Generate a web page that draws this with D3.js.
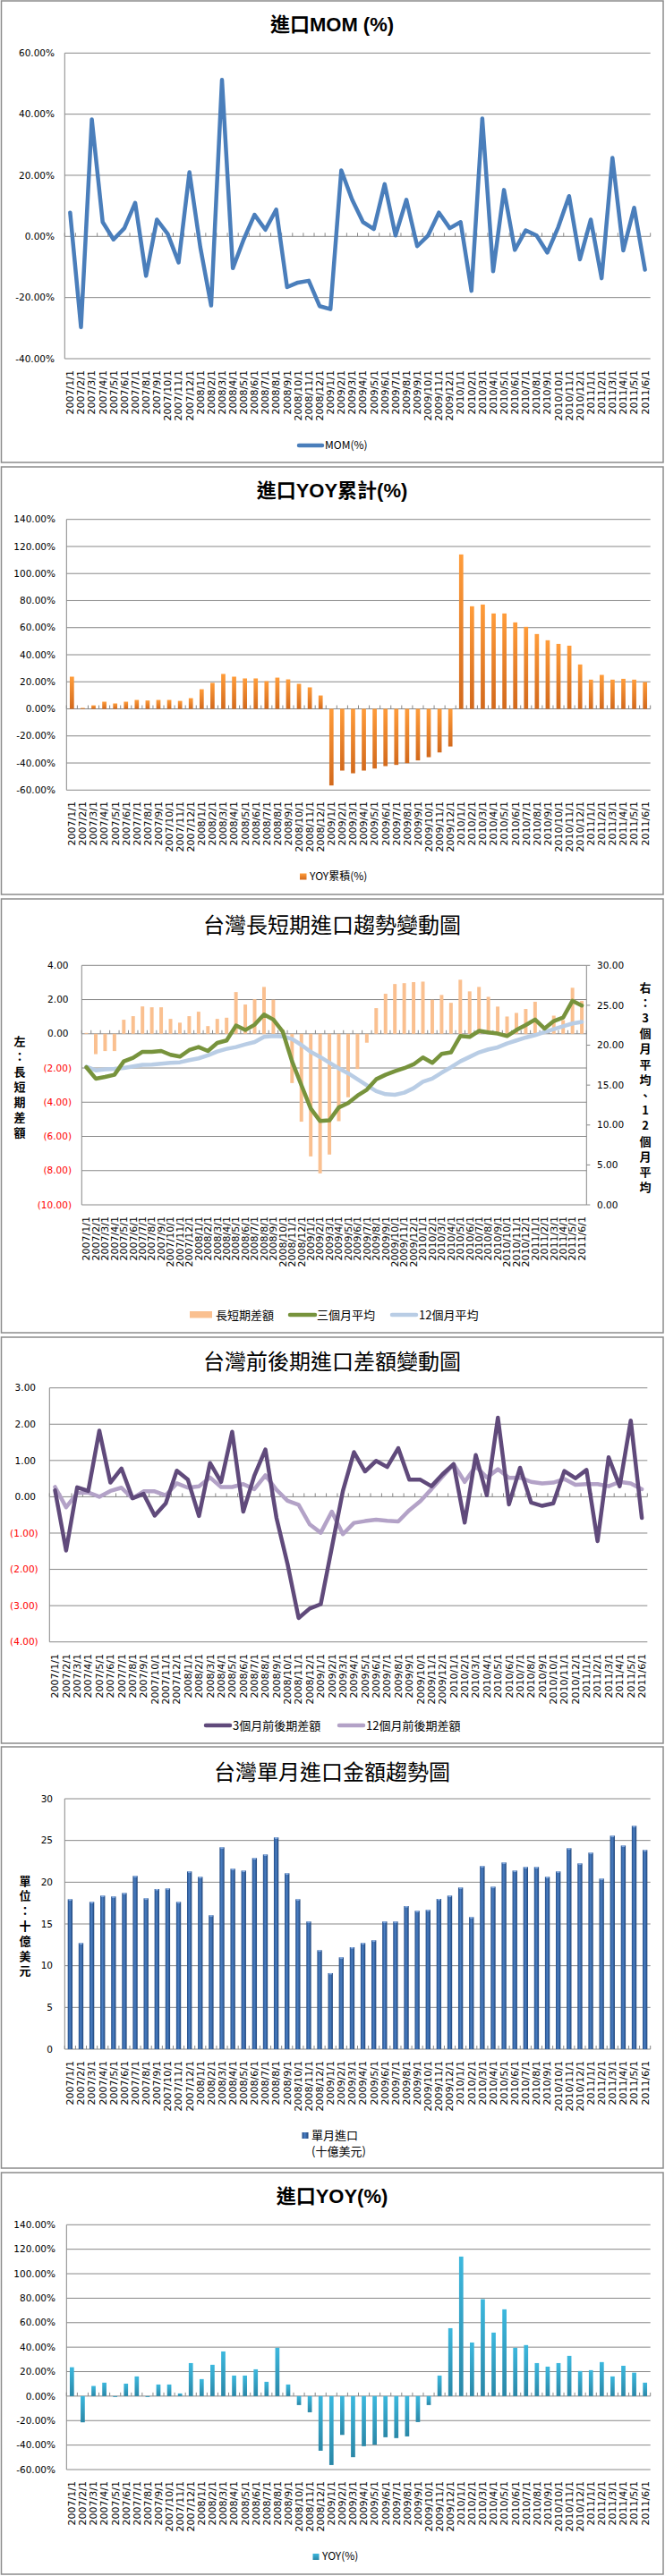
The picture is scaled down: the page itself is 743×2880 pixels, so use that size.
<!DOCTYPE html>
<html><head><meta charset="utf-8">
<script src="https://cdn.jsdelivr.net/npm/d3@7"></script>
<style>
body{margin:0;background:#fff;}
svg{display:block;}
</style></head><body>
<svg id="c" width="743" height="2880"></svg>
<script>
// ---------------- DATA ----------------
const categories = [
"2007/1/1","2007/2/1","2007/3/1","2007/4/1","2007/5/1","2007/6/1","2007/7/1","2007/8/1","2007/9/1","2007/10/1","2007/11/1","2007/12/1",
"2008/1/1","2008/2/1","2008/3/1","2008/4/1","2008/5/1","2008/6/1","2008/7/1","2008/8/1","2008/9/1","2008/10/1","2008/11/1","2008/12/1",
"2009/1/1","2009/2/1","2009/3/1","2009/4/1","2009/5/1","2009/6/1","2009/7/1","2009/8/1","2009/9/1","2009/10/1","2009/11/1","2009/12/1",
"2010/1/1","2010/2/1","2010/3/1","2010/4/1","2010/5/1","2010/6/1","2010/7/1","2010/8/1","2010/9/1","2010/10/1","2010/11/1","2010/12/1",
"2011/1/1","2011/2/1","2011/3/1","2011/4/1","2011/5/1","2011/6/1"];

// 進口MOM (%)
const momValues = [7.8,-29.7,38.3,4.7,-1.0,2.7,11.0,-12.9,5.5,0.8,-8.5,21.0,
-3.5,-22.6,51.2,-10.4,-1.0,7.1,2.2,8.8,-16.6,-15.1,-14.5,-22.8,
-23.8,21.6,12.0,4.7,2.4,17.1,0.3,12.0,-3.2,0.3,7.8,2.7,
4.7,-17.8,38.6,-11.4,15.2,-4.4,2.0,0.3,-5.3,3.0,13.2,-7.5,
5.5,-13.7,25.7,-4.6,9.4,-10.9];

// 進口YOY累計(%)
const yoyCumValues = [23.8,0.7,2.6,5.3,4.0,5.3,6.6,6.2,6.6,6.6,5.9,7.9,
14.5,19.2,25.8,23.8,22.5,22.5,20.5,23.1,21.8,18.5,15.9,9.9,
-56.6,-45.6,-47.6,-45.6,-44.1,-42.3,-41.4,-40.1,-38.1,-35.7,-32.2,-27.8,
114.1,75.8,77.1,70.5,70.5,63.9,60.6,55.3,50.7,48.0,46.7,32.8,
21.6,25.1,21.6,22.2,21.6,19.8];

// 台灣長短期進口趨勢變動圖
const longShortDiff = [0.05,-1.19,-1.01,-1.01,0.82,1.03,1.60,1.55,1.55,0.87,0.65,1.03,
1.29,0.45,0.87,0.94,2.44,1.71,2.02,2.74,1.99,0.24,-2.88,-5.14,
-7.17,-8.16,-7.06,-5.11,-3.71,-2.06,-0.52,1.50,2.34,2.91,2.96,3.02,
3.05,1.99,2.27,1.81,3.16,2.48,2.74,2.16,1.59,1.01,1.22,1.45,
1.87,0.30,1.06,0.80,2.69,1.92];
const avg3m = [17.23,15.81,16.03,16.29,17.97,18.42,19.17,19.17,19.28,18.80,18.57,19.39,
19.77,19.28,20.29,20.59,22.46,21.90,22.57,23.84,23.21,21.71,17.97,14.99,
12.07,10.50,10.58,12.20,12.74,13.68,14.42,15.73,16.29,16.74,17.12,17.60,
18.46,17.79,18.91,19.10,21.15,21.04,21.79,21.60,21.45,21.15,21.90,22.53,
23.21,22.08,23.02,23.47,25.56,24.96];
const avg12m = [17.30,16.85,16.97,17.04,17.15,17.34,17.53,17.56,17.68,17.79,17.86,18.12,
18.35,18.72,19.21,19.54,19.77,20.10,20.40,21.04,21.15,21.11,20.78,20.03,
19.17,18.53,17.80,17.10,16.48,15.73,14.98,14.24,13.86,13.79,14.05,14.61,
15.43,15.81,16.55,17.23,17.97,18.53,19.10,19.47,19.73,20.22,20.59,20.96,
21.26,21.64,22.01,22.38,22.72,22.91];

// 台灣前後期進口差額變動圖
const diff3m = [0.18,-1.48,0.26,0.16,1.82,0.39,0.78,-0.04,0.08,-0.52,-0.18,0.72,
0.47,-0.53,0.93,0.41,1.79,-0.41,0.58,1.30,-0.58,-1.85,-3.34,-3.08,
-2.96,-1.40,0.16,1.23,0.70,0.99,0.82,1.34,0.47,0.47,0.29,0.62,
0.90,-0.71,1.15,0.04,2.18,-0.21,0.80,-0.16,-0.25,-0.18,0.71,0.51,
0.74,-1.22,1.09,0.29,2.10,-0.58];
const diff12m = [0.27,-0.29,0.10,0.12,0.00,0.16,0.25,-0.04,0.15,0.15,0.04,0.37,
0.25,0.29,0.53,0.27,0.27,0.35,0.21,0.59,0.19,-0.11,-0.22,-0.76,
-0.99,-0.41,-1.03,-0.72,-0.67,-0.63,-0.66,-0.68,-0.37,-0.12,0.21,0.56,
0.90,0.41,0.84,0.53,0.76,0.52,0.53,0.41,0.37,0.39,0.49,0.33,
0.35,0.35,0.29,0.41,0.37,0.21];

// 台灣單月進口金額趨勢圖 (十億美元)
const monthlyImports = [17.96,12.71,17.64,18.39,18.29,18.71,20.75,18.07,19.18,19.25,17.64,21.29,
20.64,16.04,24.18,21.61,21.39,22.89,23.32,25.36,21.07,17.96,15.29,11.86,
9.11,11.00,12.21,12.71,13.04,15.29,15.29,17.14,16.57,16.68,18.00,18.39,
19.36,15.82,21.93,19.46,22.36,21.39,21.82,21.82,20.64,21.29,24.07,22.25,
23.54,20.43,25.57,24.39,26.75,23.86];

// 進口YOY(%)
const yoyValues = [23.6,-21.4,8.3,11.0,-0.7,10.2,16.1,-0.7,9.5,9.5,2.2,27.0,
13.9,25.6,36.5,16.8,16.8,21.9,11.7,39.5,9.5,-7.3,-13.2,-44.6,
-56.3,-31.7,-49.9,-40.9,-39.7,-33.6,-34.3,-32.9,-21.2,-7.3,16.8,55.5,
114.0,43.8,79.2,51.9,70.9,39.5,41.7,27.0,24.1,27.0,32.9,20.5,
21.2,27.8,16.1,24.8,19.2,11.0];

const momTicks = [-40,-20,0,20,40,60];
const yoyTicks = [-60,-40,-20,0,20,40,60,80,100,120,140];
const trendLeftTicks = [-10,-8,-6,-4,-2,0,2,4];
const trendRightTicks = [0,5,10,15,20,25,30];
const diffTicks = [-4,-3,-2,-1,0,1,2,3];
const amountTicks = [0,5,10,15,20,25,30];

// ---------------- HELPERS ----------------
const svg = d3.select('#c');
const NUM = "'DejaVu Sans','Noto Sans CJK TC',sans-serif";
const CJK = "'Noto Sans CJK TC','DejaVu Sans',sans-serif";
const TITLEB = "'Liberation Sans','Noto Sans CJK TC',sans-serif";
const GRID = '#888888';

const defs = svg.append('defs');
function vGrad(id, top, bottom){
  const g = defs.append('linearGradient').attr('id',id).attr('x1',0).attr('y1',0).attr('x2',0).attr('y2',1);
  g.append('stop').attr('offset','0%').attr('stop-color',top);
  g.append('stop').attr('offset','100%').attr('stop-color',bottom);
}
vGrad('gOrange','#ff9c3a','#d2691c');
vGrad('gCyan','#3cb8de','#2a87a7');
const gb = defs.append('linearGradient').attr('id','gBlue').attr('x1',0).attr('y1',0).attr('x2',1).attr('y2',0);
gb.append('stop').attr('offset','0%').attr('stop-color','#234c86');
gb.append('stop').attr('offset','45%').attr('stop-color','#4a7fc4');
gb.append('stop').attr('offset','100%').attr('stop-color','#1f4478');

function frame(y0,y1){
  svg.append('rect').attr('x',1.5).attr('y',y0).attr('width',739.5).attr('height',y1-y0)
    .attr('fill','#fff').attr('stroke','#8c8c8c').attr('stroke-width',1.5);
}
function title(txt,y,size,bold){
  svg.append('text').attr('x',371).attr('y',y).attr('text-anchor','middle').attr('dominant-baseline','central')
    .style('font-family', bold?TITLEB:CJK).style('font-weight', bold?'bold':'normal')
    .style('font-size', size+'px').attr('fill','#000').text(txt);
}
function band(l,r){ return d3.scaleBand().domain(categories).range([l,r]).padding(0); }
function cx(x,d){ return x(d)+x.bandwidth()/2; }
function grid(y,ticks,l,r){
  svg.append('g').selectAll('line').data(ticks).join('line')
    .attr('x1',l).attr('x2',r).attr('y1',d=>y(d)).attr('y2',d=>y(d))
    .attr('stroke',GRID).attr('stroke-width',1);
}
function vline(x,t,b){ svg.append('line').attr('x1',x).attr('x2',x).attr('y1',t).attr('y2',b).attr('stroke',GRID).attr('stroke-width',1); }
function catTicks(x,yPos){
  const n = categories.length, bw = x.bandwidth(), x0 = x.range()[0];
  svg.append('g').selectAll('line').data(d3.range(n+1)).join('line')
    .attr('x1',i=>x0+i*bw).attr('x2',i=>x0+i*bw).attr('y1',yPos-4).attr('y2',yPos)
    .attr('stroke',GRID).attr('stroke-width',1);
}
function xLabels(x,top){
  svg.append('g').selectAll('text').data(categories).join('text')
    .attr('transform',d=>`translate(${cx(x,d)},${top}) rotate(-90)`)
    .attr('text-anchor','end').attr('dy','0.35em')
    .style('font-family',NUM).style('font-size','11px').attr('fill','#000').text(d=>d);
}
function yLabels(y,ticks,xpos,fmt,anchor,color){
  svg.append('g').selectAll('text').data(ticks).join('text')
    .attr('x',d=>typeof xpos==='function'?xpos(d):xpos).attr('y',d=>y(d)).attr('dy','0.35em')
    .attr('text-anchor',anchor||'end')
    .style('font-family',NUM).style('font-size','10.5px')
    .attr('fill',d=>color?color(d):'#000').text(fmt);
}
function vTitle(txt,xpos,y0,step){
  const t = svg.append('text').attr('text-anchor','middle').style('font-family',CJK).style('font-weight','bold')
    .style('font-size','13px').attr('fill','#000');
  Array.from(txt).forEach((ch,i)=>{
    t.append('tspan').attr('x',xpos).attr('y',y0+i*step).attr('dy','0.35em').text(ch);
  });
}
function legText(txt,x,y,size){
  svg.append('text').attr('x',x).attr('y',y).attr('dy','0.35em')
    .style('font-family',CJK).style('font-size',(size||13)+'px').attr('fill','#000').text(txt);
}
function legLine(x1,x2,y,color){
  svg.append('line').attr('x1',x1).attr('x2',x2).attr('y1',y).attr('y2',y)
    .attr('stroke',color).attr('stroke-width',4.5).attr('stroke-linecap','round');
}
function drawLine(x,y,vals,color,w){
  svg.append('path').datum(vals)
    .attr('d', d3.line().x((d,i)=>cx(x,categories[i])).y(d=>y(d)))
    .attr('fill','none').attr('stroke',color).attr('stroke-width',w||4.5)
    .attr('stroke-linejoin','round').attr('stroke-linecap','round');
}
function drawBars(x,y,vals,fill,frac){
  const w = x.bandwidth()*frac;
  svg.append('g').selectAll('rect').data(vals).join('rect')
    .attr('x',(d,i)=>cx(x,categories[i])-w/2)
    .attr('y',d=>Math.min(y(0),y(d)))
    .attr('width',w)
    .attr('height',d=>Math.abs(y(d)-y(0)))
    .attr('fill',fill);
}
const pct = d=>d.toFixed(2)+'%';
const acct = d=> d<0 ? '('+Math.abs(d).toFixed(2)+')' : d.toFixed(2);
const red = d=> d<0 ? '#ff0000' : '#000';

// ---------------- CHART 1: 進口MOM (%) ----------------
(function(){
  frame(1,517);
  title('進口MOM (%)',27,22,true);
  const L=72.3,R=726.7,T=59.3,B=401;
  const x = band(L,R);
  const y = d3.scaleLinear().domain([-40,60]).range([B,T]);
  grid(y,momTicks,L,R);
  vline(L,T,B);
  catTicks(x,y(0));
  yLabels(y,momTicks,61,pct);
  drawLine(x,y,momValues,'#4a7ebb',4.5);
  xLabels(x,414);
  legLine(334,360,498,'#4a7ebb');
  legText('MOM(%)',363,498,12);
})();

// ---------------- CHART 2: 進口YOY累計(%) ----------------
(function(){
  frame(522,1000);
  title('進口YOY累計(%)',548,22,true);
  const L=74.3,R=726.7,T=580.7,B=883.3;
  const x = band(L,R);
  const y = d3.scaleLinear().domain([-60,140]).range([B,T]);
  grid(y,yoyTicks,L,R);
  vline(L,T,B);
  drawBars(x,y,yoyCumValues,'url(#gOrange)',0.39);
  catTicks(x,y(0));
  yLabels(y,yoyTicks,62,pct);
  xLabels(x,896);
  svg.append('rect').attr('x',335).attr('y',976.5).attr('width',7.5).attr('height',7).attr('fill','url(#gOrange)');
  legText('YOY累積(%)',346,980,12);
})();

// ---------------- CHART 3: 台灣長短期進口趨勢變動圖 ----------------
(function(){
  frame(1005,1490);
  title('台灣長短期進口趨勢變動圖',1032,24,false);
  const L=91.3,R=655.3,T=1079.3,B=1347;
  const x = band(L,R);
  const yL = d3.scaleLinear().domain([-10,4]).range([B,T]);
  const yR = d3.scaleLinear().domain([0,30]).range([B,T]);
  grid(yL,trendLeftTicks,L,R);
  vline(L,T,B); vline(R,T,B);
  svg.append('g').selectAll('line').data(trendRightTicks).join('line')
    .attr('x1',R).attr('x2',R+4).attr('y1',d=>yR(d)).attr('y2',d=>yR(d)).attr('stroke',GRID);
  drawBars(x,yL,longShortDiff,'#fac090',0.38);
  catTicks(x,yL(0));
  drawLine(x,yR,avg12m,'#b9cde5',4.5);
  drawLine(x,yR,avg3m,'#77933c',4.5);
  yLabels(yL,trendLeftTicks,d=>d<0?80:76.5,acct,'end',red);
  yLabels(yR,trendRightTicks,667,d=>d.toFixed(2),'start');
  vTitle('左：長短期差額',22,1164,17);
  vTitle('右：3個月平均、12個月平均',721,1104,17.2);
  xLabels(x,1360);
  svg.append('rect').attr('x',212).attr('y',1466).attr('width',25).attr('height',7.5).attr('fill','#fac090');
  legText('長短期差額',241,1470);
  legLine(324,352,1470,'#77933c');
  legText('三個月平均',354,1470);
  legLine(438,465,1470,'#b9cde5');
  legText('12個月平均',468,1470);
})();

// ---------------- CHART 4: 台灣前後期進口差額變動圖 ----------------
(function(){
  frame(1495,1949);
  title('台灣前後期進口差額變動圖',1520,24,false);
  const L=55.3,R=723.3,T=1551.7,B=1835.7;
  const x = band(L,R);
  const y = d3.scaleLinear().domain([-4,3]).range([B,T]);
  grid(y,diffTicks,L,R);
  vline(L,T,B);
  catTicks(x,y(0));
  drawLine(x,y,diff12m,'#b3a2c7',4.5);
  drawLine(x,y,diff3m,'#604a7b',4.5);
  yLabels(y,diffTicks,d=>d<0?42.7:40,acct,'end',red);
  xLabels(x,1849);
  legLine(230,257,1929,'#604a7b');
  legText('3個月前後期差額',260,1929);
  legLine(379,406,1929,'#b3a2c7');
  legText('12個月前後期差額',409,1929);
})();

// ---------------- CHART 5: 台灣單月進口金額趨勢圖 ----------------
(function(){
  frame(1953,2424);
  title('台灣單月進口金額趨勢圖',1979,24,false);
  const L=72.3,R=726.7,T=2011,B=2291;
  const x = band(L,R);
  const y = d3.scaleLinear().domain([0,30]).range([B,T]);
  grid(y,amountTicks,L,R);
  vline(L,T,B);
  drawBars(x,y,monthlyImports,'url(#gBlue)',0.44);
  const w = x.bandwidth()*0.44;
  svg.append('g').selectAll('rect').data(monthlyImports).join('rect')
    .attr('x',(d,i)=>cx(x,categories[i])-w/2+1).attr('y',d=>y(d)).attr('width',w-2).attr('height',1.5)
    .attr('fill','#8fb3e6');
  catTicks(x,y(0));
  yLabels(y,amountTicks,59,d=>String(d));
  vTitle('單位：十億美元',28,2103,16.8);
  xLabels(x,2304);
  svg.append('rect').attr('x',337.5).attr('y',2384).attr('width',7).attr('height',7).attr('fill','url(#gBlue)');
  legText('單月進口',348,2387);
  legText('(十億美元)',348,2405);
})();

// ---------------- CHART 6: 進口YOY(%) ----------------
(function(){
  frame(2429,2878);
  title('進口YOY(%)',2455,22,true);
  const L=74.3,R=726.7,T=2487.3,B=2761;
  const x = band(L,R);
  const y = d3.scaleLinear().domain([-60,140]).range([B,T]);
  grid(y,yoyTicks,L,R);
  vline(L,T,B);
  drawBars(x,y,yoyValues,'url(#gCyan)',0.39);
  catTicks(x,y(0));
  yLabels(y,yoyTicks,62,pct);
  xLabels(x,2774);
  svg.append('rect').attr('x',349.5).attr('y',2855).attr('width',7).attr('height',7).attr('fill','url(#gCyan)');
  legText('YOY(%)',360,2858,12);
})();
</script>
</body></html>
